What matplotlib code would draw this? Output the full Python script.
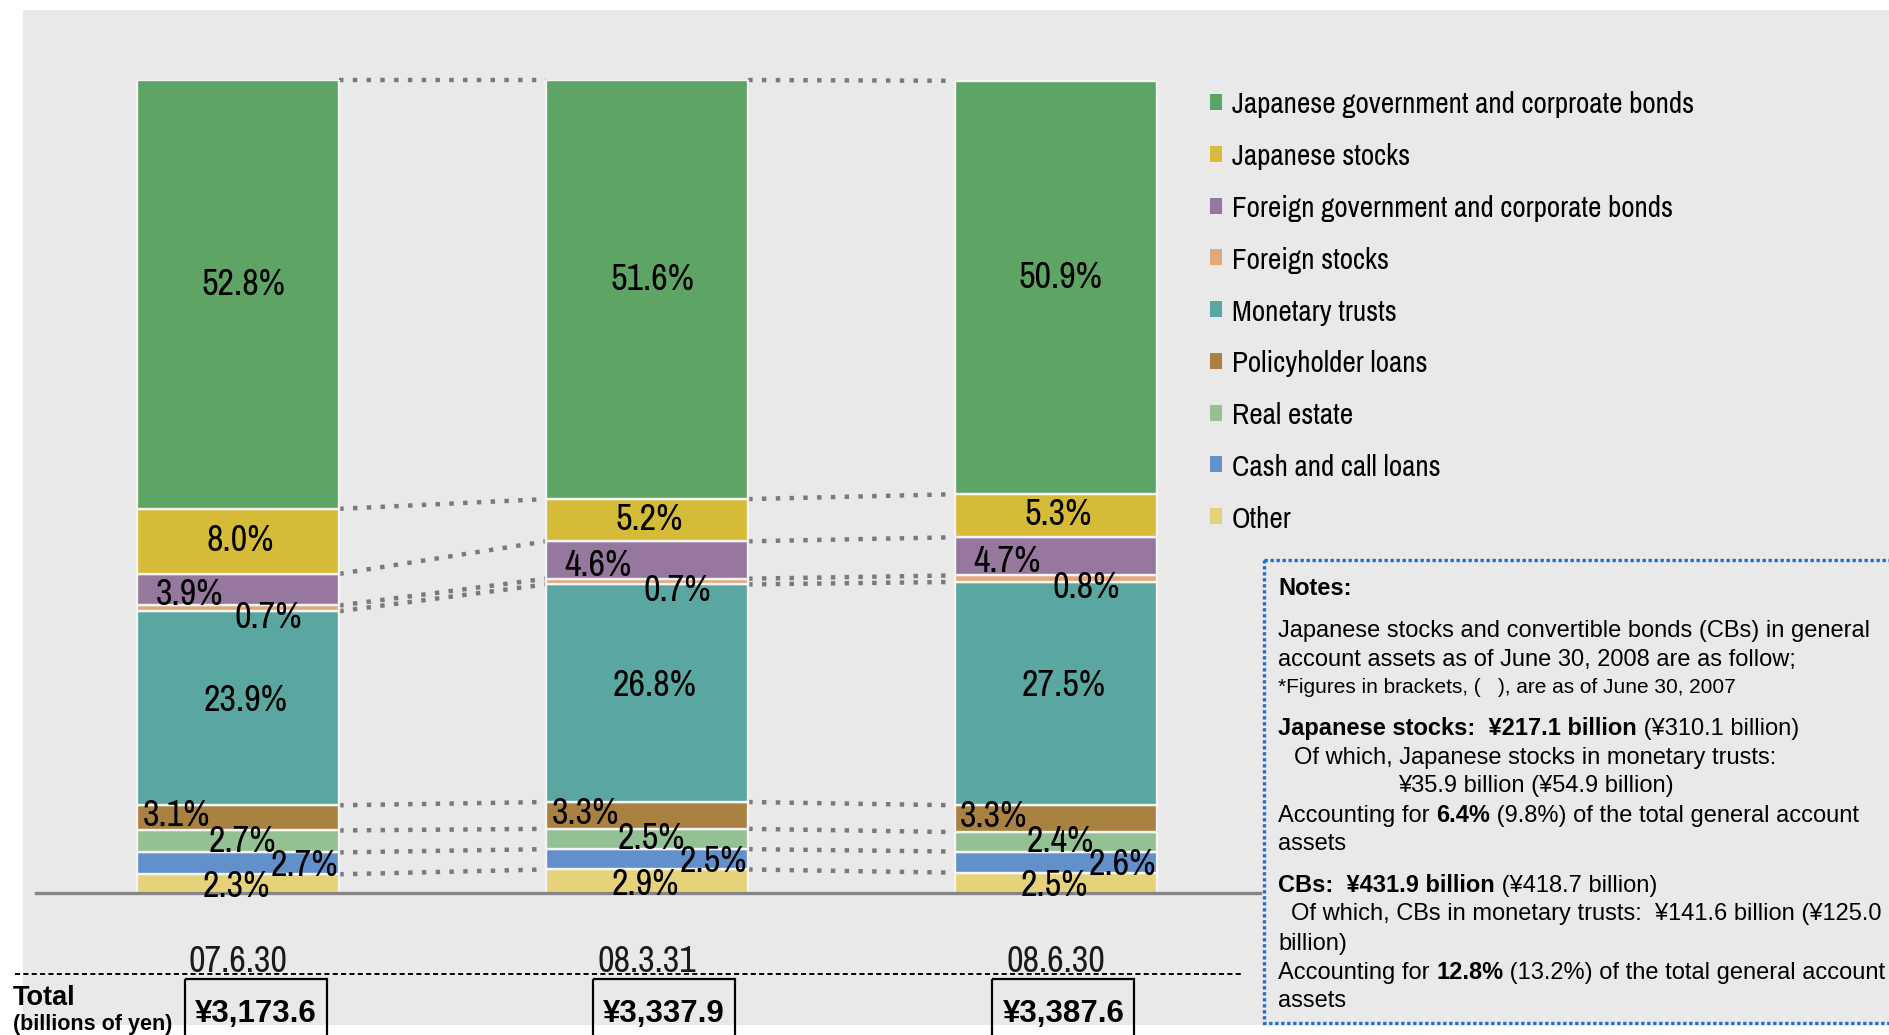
import numpy as np
import matplotlib
matplotlib.use("Agg")
import matplotlib.pyplot as plt
from matplotlib.patches import Rectangle
from matplotlib.transforms import blended_transform_factory

# share of general account assets (%), listed from the top of each stack down
categories = [
    "Japanese government and corproate bonds",
    "Japanese stocks",
    "Foreign government and corporate bonds",
    "Foreign stocks",
    "Monetary trusts",
    "Policyholder loans",
    "Real estate",
    "Cash and call loans",
    "Other",
]
dates = ["07.6.30", "08.3.31", "08.6.30"]
share_0706 = [52.8, 8.0, 3.9, 0.7, 23.9, 3.1, 2.7, 2.7, 2.3]
share_0803 = [51.6, 5.2, 4.6, 0.7, 26.8, 3.3, 2.5, 2.5, 2.9]
share_0806 = [50.9, 5.3, 4.7, 0.8, 27.5, 3.3, 2.4, 2.6, 2.5]
totals = [3173.6, 3337.9, 3387.6]  # billions of yen

colors = ["#5ea464", "#d6bb38", "#96789e", "#e2a877", "#5aa6a0",
          "#a98140", "#93c193", "#6190cb", "#e5d27a"]
# nudges for the percentage labels, in pixels (right, down)
label_dx = [5, 2, -49, 30, 8, -62, 4, 66, -2]
label_dy = [-13, -4, 2, 6, -11, -5, -3, -1, 0]
# total boxes sit a little right of their bars
box_shift = [0.044, 0.042, 0.018]

PANEL = "#e9e9e9"
SANS = ["Liberation Sans", "DejaVu Sans"]
NARROW = ["Archivo Narrow", "Roboto Condensed", "Liberation Sans"]

W, H = 1890, 1035
fig = plt.figure(figsize=(W / 100, H / 100), dpi=100)
fig.patch.set_facecolor("white")
fig.patches.append(Rectangle((23 / W, (H - 1025) / H), 1.0, (1025 - 10) / H,
                             transform=fig.transFigure, facecolor=PANEL,
                             edgecolor="none", zorder=-5))

# plot area: baseline at 893 px, top of stacks at 80 px
ax = fig.add_axes([36 / W, (H - 893) / H, (1260 - 36) / W, (893 - 80) / H])
ax.set_facecolor("none")
for s in ax.spines.values():
    s.set_visible(False)
ax.set_xticks([])
ax.set_yticks([])

shares = np.array([share_0706, share_0803, share_0806]).T  # category x date
x = np.arange(len(dates))
bar_w = 0.495
ax.set_xlim(-0.494, 2.499)
ax.set_ylim(0, shares.sum(axis=0).max())

bottoms = np.zeros(len(dates))
bounds = []
for k in reversed(range(len(categories))):
    vals = shares[k]
    ax.bar(x, vals, bar_w, bottom=bottoms, color=colors[k],
           edgecolor="#f4f4f4", linewidth=1.7, zorder=3)
    mids = bottoms + vals / 2
    for i in range(len(dates)):
        ax.annotate(f"{vals[i]:.1f}%", (x[i], mids[i]),
                    xytext=(label_dx[k], -label_dy[k]), textcoords="offset pixels",
                    ha="center", va="center_baseline", family=NARROW,
                    fontsize=26, color="black", zorder=6)
    bottoms = bottoms + vals
    bounds.append(bottoms.copy())

# dotted connectors between matching segment boundaries
for b in bounds:
    for i in range(len(dates) - 1):
        ax.plot([x[i] + bar_w / 2, x[i + 1] - bar_w / 2], [b[i], b[i + 1]],
                color="#7a7a7a", lw=3.2, dashes=(1, 2.1),
                dash_capstyle="butt", zorder=1, clip_on=False)

ax.axhline(0, color="#858585", lw=2.4, zorder=5, clip_on=False)

# overlay in pixel units for legend, notes and totals row
ov = fig.add_axes([0, 0, 1, 1])
ov.set_xlim(0, W)
ov.set_ylim(H, 0)
ov.axis("off")

for k, name in enumerate(categories):
    yc = 102 + k * 51.75
    ov.add_patch(Rectangle((1210, yc - 8), 12, 16, facecolor=colors[k],
                           edgecolor="none"))
    ov.text(1232, yc + 11.5, name, family=NARROW, fontsize=21,
            va="baseline", ha="left", color="black")

# totals row
mix = blended_transform_factory(ax.transData, ov.transData)
ov.plot([15, 1242], [974, 974], color="black", lw=1.4, dashes=(2.6, 1.7))
for i, (d, t) in enumerate(zip(dates, totals)):
    ov.text(x[i], 972, d, transform=mix, ha="center", va="baseline",
            family=NARROW, fontsize=26, color="#1a1a1a")
    bx = x[i] + box_shift[i]
    ov.add_patch(Rectangle((bx - 0.174, 979), 0.347, 70, transform=mix,
                           facecolor="none", edgecolor="black", lw=1.6))
    ov.text(bx, 1022, f"¥{t:,.1f}", transform=mix, ha="center",
            va="baseline", family=SANS, fontweight="bold", fontsize=22.5)
ov.text(13, 1005, "Total", family=SANS, fontweight="bold", fontsize=19.5,
        va="baseline")
ov.text(13, 1030, "(billions of yen)", family=SANS, fontweight="bold",
        fontsize=15.5, va="baseline")

# notes box
ov.add_patch(Rectangle((1264, 560), 700, 463, facecolor="none",
                       edgecolor="#1f6fd6", lw=2.4, linestyle=(0, (1, 0.8))))


def note_line(x0, y0, parts, size=17):
    prev = None
    for s, weight in parts:
        if prev is None:
            prev = ov.text(x0, y0, s, family=SANS, fontweight=weight,
                           fontsize=size, va="baseline", ha="left")
        else:
            prev = ov.annotate(s, xy=(1, 0), xycoords=prev, family=SANS,
                               fontweight=weight, fontsize=size,
                               va="bottom", ha="left", annotation_clip=False)


note_line(1278, 595, [("Notes:", "bold")])
note_line(1278, 637, [("Japanese stocks and convertible bonds (CBs) in general", "normal")])
note_line(1278, 666, [("account assets as of June 30, 2008 are as follow;", "normal")])
note_line(1278, 693, [("*Figures in brackets, (   ), are as of June 30, 2007", "normal")], size=15)
note_line(1278, 735, [("Japanese stocks:  ¥217.1 billion", "bold"), (" (¥310.1 billion)", "normal")])
note_line(1294, 764, [("Of which, Japanese stocks in monetary trusts:", "normal")])
note_line(1398, 792, [("¥35.9 billion (¥54.9 billion)", "normal")])
note_line(1278, 822, [("Accounting for ", "normal"), ("6.4%", "bold"),
                      (" (9.8%) of the total general account", "normal")])
note_line(1278, 850, [("assets", "normal")])
note_line(1278, 892, [("CBs:  ¥431.9 billion", "bold"), (" (¥418.7 billion)", "normal")])
note_line(1291, 920, [("Of which, CBs in monetary trusts:  ¥141.6 billion (¥125.0", "normal")])
note_line(1278, 950, [("billion)", "normal")])
note_line(1278, 979, [("Accounting for ", "normal"), ("12.8%", "bold"),
                      (" (13.2%) of the total general account", "normal")])
note_line(1278, 1007, [("assets", "normal")])

fig.savefig("out.png", dpi=100)
